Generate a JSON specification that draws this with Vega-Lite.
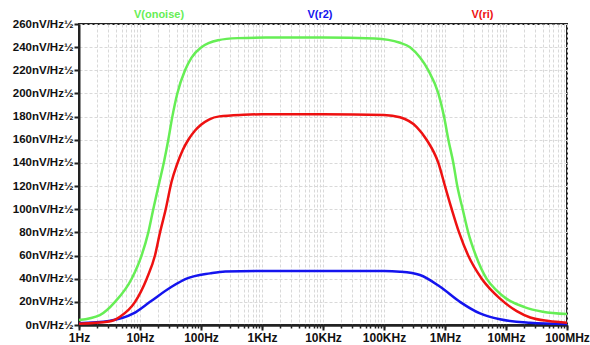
{
  "$schema": "https://vega.github.io/schema/vega-lite/v6.json",
  "width": 488,
  "height": 301,
  "autosize": {"type": "none"},
  "padding": {"left": 79, "top": 24, "right": 23, "bottom": 20},
  "background": "white",
  "config": {
    "view": {"stroke": "#222222", "strokeWidth": 2},
    "font": "Liberation Sans",
    "axis": {
      "labelFont": "Liberation Sans",
      "labelFontSize": 12,
      "labelFontWeight": "bold",
      "labelColor": "#111111",
      "labelOverlap": false,
      "labelFlush": false,
      "labelBound": false,
      "domainColor": "#222222",
      "domainWidth": 2,
      "tickColor": "#222222",
      "gridColor": "#d9d9d9",
      "gridDash": [3, 2],
      "gridWidth": 1,
      "title": null
    }
  },
  "datasets": {
    "curves": [
      {"f": 1, "s": "V(onoise)", "v": 4.3},
      {"f": 2.2, "s": "V(onoise)", "v": 8.6},
      {"f": 3.9, "s": "V(onoise)", "v": 20},
      {"f": 7.3, "s": "V(onoise)", "v": 40},
      {"f": 10.6, "s": "V(onoise)", "v": 60},
      {"f": 13.7, "s": "V(onoise)", "v": 80},
      {"f": 16.5, "s": "V(onoise)", "v": 100},
      {"f": 20.5, "s": "V(onoise)", "v": 122},
      {"f": 25, "s": "V(onoise)", "v": 142},
      {"f": 29.1, "s": "V(onoise)", "v": 160},
      {"f": 33.9, "s": "V(onoise)", "v": 180},
      {"f": 40.9, "s": "V(onoise)", "v": 200},
      {"f": 54.7, "s": "V(onoise)", "v": 220},
      {"f": 70, "s": "V(onoise)", "v": 231},
      {"f": 102, "s": "V(onoise)", "v": 240},
      {"f": 190, "s": "V(onoise)", "v": 246},
      {"f": 400, "s": "V(onoise)", "v": 247.8},
      {"f": 1150, "s": "V(onoise)", "v": 248.3},
      {"f": 10000, "s": "V(onoise)", "v": 248.4},
      {"f": 71000, "s": "V(onoise)", "v": 247.5},
      {"f": 183000, "s": "V(onoise)", "v": 243.8},
      {"f": 267000, "s": "V(onoise)", "v": 240},
      {"f": 390000, "s": "V(onoise)", "v": 231},
      {"f": 533000, "s": "V(onoise)", "v": 220},
      {"f": 778000, "s": "V(onoise)", "v": 200},
      {"f": 964000, "s": "V(onoise)", "v": 180},
      {"f": 1135000, "s": "V(onoise)", "v": 160},
      {"f": 1370000, "s": "V(onoise)", "v": 140},
      {"f": 1590000, "s": "V(onoise)", "v": 120},
      {"f": 1950000, "s": "V(onoise)", "v": 100},
      {"f": 2400000, "s": "V(onoise)", "v": 80},
      {"f": 3200000, "s": "V(onoise)", "v": 60},
      {"f": 4800000, "s": "V(onoise)", "v": 40},
      {"f": 7000000, "s": "V(onoise)", "v": 30},
      {"f": 10000000, "s": "V(onoise)", "v": 23},
      {"f": 20000000, "s": "V(onoise)", "v": 15.5},
      {"f": 40000000, "s": "V(onoise)", "v": 11.5},
      {"f": 100000000, "s": "V(onoise)", "v": 9.5},

      {"f": 1, "s": "V(r2)", "v": 1.5},
      {"f": 3.1, "s": "V(r2)", "v": 3.5},
      {"f": 7.8, "s": "V(r2)", "v": 10},
      {"f": 14.6, "s": "V(r2)", "v": 20},
      {"f": 33, "s": "V(r2)", "v": 33},
      {"f": 58, "s": "V(r2)", "v": 40},
      {"f": 141, "s": "V(r2)", "v": 44.6},
      {"f": 250, "s": "V(r2)", "v": 46.3},
      {"f": 1000, "s": "V(r2)", "v": 46.7},
      {"f": 10000, "s": "V(r2)", "v": 46.7},
      {"f": 100000, "s": "V(r2)", "v": 46.6},
      {"f": 183000, "s": "V(r2)", "v": 46},
      {"f": 389000, "s": "V(r2)", "v": 43.2},
      {"f": 832000, "s": "V(r2)", "v": 33},
      {"f": 1760000, "s": "V(r2)", "v": 20},
      {"f": 3750000, "s": "V(r2)", "v": 10},
      {"f": 7950000, "s": "V(r2)", "v": 4.9},
      {"f": 24600000, "s": "V(r2)", "v": 2},
      {"f": 100000000, "s": "V(r2)", "v": 0.9},

      {"f": 1, "s": "V(ri)", "v": 1},
      {"f": 3.1, "s": "V(ri)", "v": 3},
      {"f": 4.7, "s": "V(ri)", "v": 7.2},
      {"f": 8.3, "s": "V(ri)", "v": 20},
      {"f": 12.9, "s": "V(ri)", "v": 40},
      {"f": 17.6, "s": "V(ri)", "v": 60},
      {"f": 21.3, "s": "V(ri)", "v": 80},
      {"f": 26.4, "s": "V(ri)", "v": 100},
      {"f": 33, "s": "V(ri)", "v": 124},
      {"f": 40, "s": "V(ri)", "v": 138},
      {"f": 50, "s": "V(ri)", "v": 151},
      {"f": 62, "s": "V(ri)", "v": 160},
      {"f": 80, "s": "V(ri)", "v": 168},
      {"f": 100, "s": "V(ri)", "v": 173},
      {"f": 135, "s": "V(ri)", "v": 177.5},
      {"f": 200, "s": "V(ri)", "v": 180.2},
      {"f": 500, "s": "V(ri)", "v": 181.6},
      {"f": 1000, "s": "V(ri)", "v": 182},
      {"f": 10000, "s": "V(ri)", "v": 182},
      {"f": 100000, "s": "V(ri)", "v": 181.5},
      {"f": 183000, "s": "V(ri)", "v": 179.4},
      {"f": 344000, "s": "V(ri)", "v": 171},
      {"f": 500000, "s": "V(ri)", "v": 160},
      {"f": 778000, "s": "V(ri)", "v": 140},
      {"f": 1000000, "s": "V(ri)", "v": 120},
      {"f": 1290000, "s": "V(ri)", "v": 100},
      {"f": 1700000, "s": "V(ri)", "v": 80},
      {"f": 2400000, "s": "V(ri)", "v": 60},
      {"f": 4000000, "s": "V(ri)", "v": 40},
      {"f": 7900000, "s": "V(ri)", "v": 23},
      {"f": 15000000, "s": "V(ri)", "v": 12},
      {"f": 25000000, "s": "V(ri)", "v": 6.5},
      {"f": 50000000, "s": "V(ri)", "v": 3.5},
      {"f": 100000000, "s": "V(ri)", "v": 2}
    ],
    "labels": [
      {"s": "V(onoise)", "f": 20.5},
      {"s": "V(r2)", "f": 8900},
      {"s": "V(ri)", "f": 4100000}
    ]
  },
  "layer": [
    {
      "data": {"name": "curves"},
      "mark": {"type": "line", "strokeWidth": 2.5, "interpolate": "monotone"},
      "encoding": {
        "x": {
          "field": "f", "type": "quantitative",
          "scale": {"type": "log", "domain": [1, 100000000], "nice": false},
          "axis": {
            "orient": "bottom",
            "tickCount": 1000,
            "values": [1,2,3,4,5,6,7,8,9,10,20,30,40,50,60,70,80,90,100,200,300,400,500,600,700,800,900,1000,2000,3000,4000,5000,6000,7000,8000,9000,10000,20000,30000,40000,50000,60000,70000,80000,90000,100000,200000,300000,400000,500000,600000,700000,800000,900000,1000000,2000000,3000000,4000000,5000000,6000000,7000000,8000000,9000000,10000000,20000000,30000000,40000000,50000000,60000000,70000000,80000000,90000000,100000000],
            "labels": false,
            "grid": true,
            "tickSize": 3,
            "tickWidth": 1.5
          }
        },
        "y": {
          "field": "v", "type": "quantitative",
          "scale": {"domain": [0, 260], "nice": false},
          "axis": {
            "tickCount": 1000,
            "values": [0,20,40,60,80,100,120,140,160,180,200,220,240,260],
            "labelExpr": "datum.value + 'nV/Hz½'",
            "labelOverlap": false,
            "labelFontSize": 11.5,
            "grid": true,
            "tickSize": 5,
            "tickWidth": 2,
            "labelPadding": 1
          }
        },
        "color": {
          "field": "s", "type": "nominal",
          "scale": {"domain": ["V(onoise)", "V(r2)", "V(ri)"], "range": ["#66ee55", "#1414ee", "#ee1111"]},
          "legend": null
        }
      }
    },
    {
      "data": {"name": "labels"},
      "mark": {"type": "text", "fontSize": 11, "fontWeight": "bold", "baseline": "middle", "align": "center", "clip": false},
      "encoding": {
        "x": {
          "field": "f", "type": "quantitative",
          "axis": {
            "orient": "bottom",
            "tickCount": 1000,
            "values": [1,10,100,1000,10000,100000,1000000,10000000,100000000],
            "labelExpr": "datum.value >= 1000000 ? format(datum.value/1000000, 'd') + 'MHz' : datum.value >= 1000 ? format(datum.value/1000, 'd') + 'KHz' : format(datum.value, 'd') + 'Hz'",
            "grid": false,
            "tickSize": 5,
            "tickWidth": 2,
            "labelPadding": 2
          }
        },
        "y": {"datum": 268, "type": "quantitative"},
        "text": {"field": "s"},
        "color": {"field": "s", "type": "nominal", "legend": null}
      }
    }
  ],
  "resolve": {"axis": {"x": "independent"}}
}
